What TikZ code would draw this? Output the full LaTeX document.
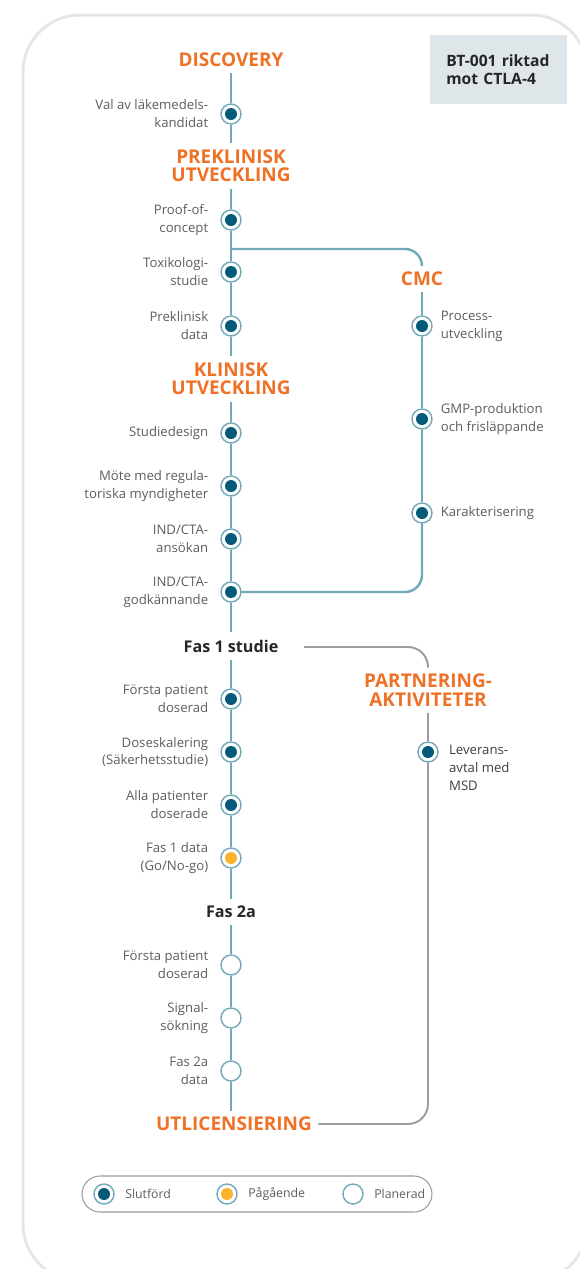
\documentclass[tikz,border=0pt]{standalone}
\usepackage{fontspec}
\setmainfont{Open Sans}
\usetikzlibrary{positioning}
\definecolor{lineteal}{HTML}{72A9B8}
\definecolor{dotblue}{HTML}{045B79}
\definecolor{dotamber}{HTML}{FBB22C}
\definecolor{headorange}{HTML}{EF7126}
\definecolor{txtgray}{HTML}{5E5E5E}
\definecolor{partgray}{HTML}{9C9C9C}
\definecolor{boxgray}{HTML}{DFE6E9}
\definecolor{panelrim}{HTML}{E6E6E6}
\begin{document}
\begin{tikzpicture}[x=0.02cm,y=-0.02cm,
  phase/.style={font=\bfseries\fontsize{10.8}{10.4}\selectfont, text=headorange, align=center, inner sep=3.5pt},
  stage/.style={font=\bfseries\fontsize{9.2}{10}\selectfont, text=black!85, inner sep=4pt},
  milestone/.style={circle, draw=lineteal, fill=white, line width=0.8pt, minimum size=0.4cm, inner sep=0pt},
  done/.style={milestone, path picture={\fill[dotblue] (path picture bounding box.center) circle (0.12cm);}},
  ongoing/.style={milestone, path picture={\fill[dotamber] (path picture bounding box.center) circle (0.12cm);}},
  planned/.style={milestone},
  lbl/.style={font=\fontsize{7.5}{10.2}\selectfont, text=txtgray, inner sep=1pt},
  lbll/.style={lbl, align=right, left=0.2cm of #1},
  lblr/.style={lbl, align=left, right=0.12cm of #1},
  key/.style={font=\fontsize{7}{10}\selectfont, text=txtgray, inner sep=1pt, right=0.17cm of #1},
  track/.style={draw=lineteal, line width=1.4pt},
  partner/.style={draw=partgray, line width=1.1pt}]
\useasboundingbox (0,0) rectangle (580,1269);
\begin{scope}
  \clip (0,0) rectangle (580,1269);
  \draw[panelrim, line width=1.7pt, fill=white, rounded corners=1.14cm] (23,15) rectangle (588,1281);
\end{scope}

\node[font=\bfseries\fontsize{8.9}{10.2}\selectfont, text=black!85, fill=boxgray, align=left,
  anchor=north west, minimum width=2.74cm, minimum height=1.38cm, inner xsep=0.32cm, text width=2.1cm] (bt) at (430,35) {\mbox{BT-001 riktad}\\mot CTLA-4};

% main track
\node[phase] (disc) at (231,60) {DISCOVERY};
\node[done] (m1) at (231,114) {};
\node[lbll=m1] (l1) {Val av läkemedels-\\kandidat};
\node[phase] (prek) at (231,166) {PREKLINISK\\UTVECKLING};
\node[done] (m2) at (231,220) {};
\node[lbll=m2] (l2) {Proof-of-\\concept};
\node[done] (m3) at (231,272) {};
\node[lbll=m3] (l3) {Toxikologi-\\studie};
\node[done] (m4) at (231,326) {};
\node[lbll=m4] (l4) {Preklinisk\\data};
\node[phase] (klin) at (231,379) {KLINISK\\UTVECKLING};
\node[done] (m5) at (231,433) {};
\node[lbll=m5] (l5) {Studiedesign};
\node[done] (m6) at (231,486) {};
\node[lbll=m6] (l6) {Möte med regula-\\toriska myndigheter};
\node[done] (m7) at (231,539) {};
\node[lbll=m7] (l7) {IND/CTA-\\ansökan};
\node[done] (m8) at (231,592) {};
\node[lbll=m8] (l8) {IND/CTA-\\godkännande};
\node[stage] (fas1) at (231,646) {Fas 1 studie};
\node[done] (m9) at (231,699) {};
\node[lbll=m9] (l9) {Första patient\\doserad};
\node[done] (m10) at (231,752) {};
\node[lbll=m10] (l10) {Doseskalering\\(Säkerhetsstudie)};
\node[done] (m11) at (231,805) {};
\node[lbll=m11] (l11) {Alla patienter\\doserade};
\node[ongoing] (m12) at (231,858) {};
\node[lbll=m12] (l12) {Fas 1 data\\(Go/No-go)};
\node[stage] (fas2) at (231,912) {Fas 2a};
\node[planned] (m13) at (231,965) {};
\node[lbll=m13] (l13) {Första patient\\doserad};
\node[planned] (m14) at (231,1018) {};
\node[lbll=m14] (l14) {Signal-\\sökning};
\node[planned] (m15) at (231,1071) {};
\node[lbll=m15] (l15) {Fas 2a\\data};
\node[phase] (utl) at (234,1124) {UTLICENSIERING};

\draw[track] (disc) -- (m1) -- (prek) -- (m2) -- (m3) -- (m4) -- (klin) -- (m5) -- (m6) -- (m7) -- (m8) -- (fas1)
  -- (m9) -- (m10) -- (m11) -- (m12) -- (fas2) -- (m13) -- (m14) -- (m15) -- (m15 |- utl.north);

% CMC branch
\node[phase] (cmc) at (422,279) {CMC};
\node[done] (c1) at (422,326) {};
\node[lblr=c1] (k1) {Process-\\utveckling};
\node[done] (c2) at (422,419) {};
\node[lblr=c2] (k2) {GMP-produktion\\och frisläppande};
\node[done] (c3) at (422,513) {};
\node[lblr=c3] (k3) {Karakterisering};
\coordinate (fork) at (231,249);
\draw[track, rounded corners=0.34cm] (fork) -| (cmc);
\draw[track] (cmc) -- (c1) -- (c2) -- (c3);
\draw[track, rounded corners=0.34cm] (c3) |- (m8);

% partnering branch
\node[phase] (part) at (428,690) {PARTNERING-\\AKTIVITETER};
\node[done] (p1) at (428,752) {};
\node[lbl, text=black!75, align=left, anchor=north west] (pl1) at (447,743) {Leverans-\\avtal med\\MSD};
\coordinate (pstart) at (304,647);
\draw[partner, rounded corners=0.4cm] (pstart) -| (part);
\draw[partner] (part) -- (p1);
\draw[partner, rounded corners=0.4cm] (p1) |- (utl);

% legend
\node[draw=partgray, line width=0.6pt, rounded corners=0.36cm, minimum width=7cm, minimum height=0.72cm] (legend) at (257,1194) {};
\node[done] (g1) at (104,1194) {};
\node[key=g1] (gl1) {Slutförd};
\node[ongoing] (g2) at (227,1194) {};
\node[key=g2] (gl2) {Pågående};
\node[planned] (g3) at (353,1194) {};
\node[key=g3] (gl3) {Planerad};
\end{tikzpicture}
\end{document}
